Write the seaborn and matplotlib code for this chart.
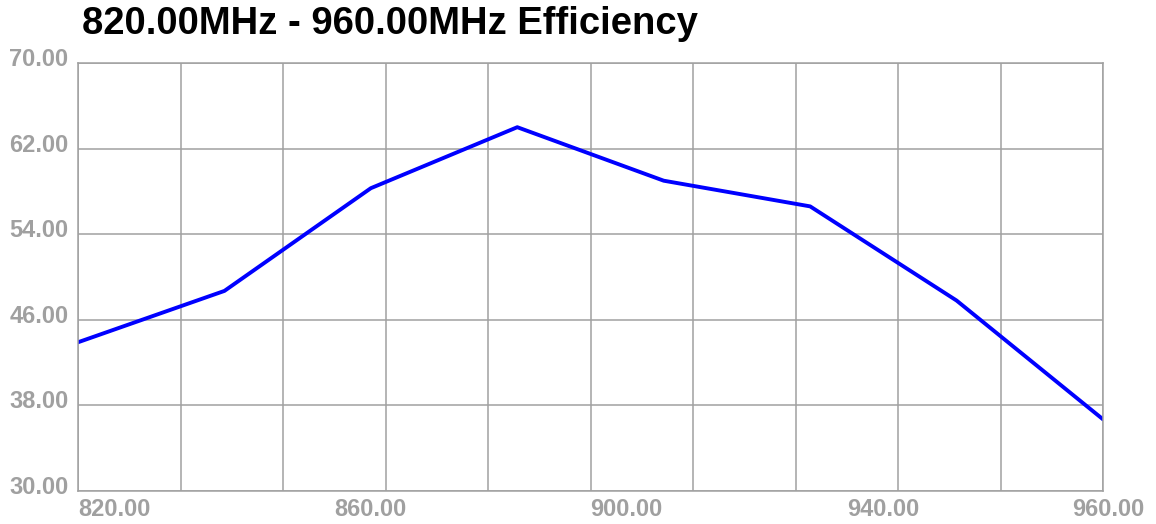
import numpy as np
import matplotlib
matplotlib.use('Agg')
import matplotlib.pyplot as plt
import matplotlib.transforms as mtrans
import seaborn as sns
import pandas as pd

# data
freq_mhz = [820, 840, 860, 880, 900, 920, 940, 960]
efficiency = [43.9, 48.7, 58.3, 64.0, 59.0, 56.6, 47.8, 36.7]

x_label_pos = [820, 855, 890, 925, 960]
x_label_text = ['820.00', '860.00', '900.00', '940.00', '960.00']
y_ticks = [30, 38, 46, 54, 62, 70]

df = pd.DataFrame({'freq': freq_mhz, 'eff': efficiency})

sns.set_style('white')
plt.rcParams['font.family'] = ['Liberation Sans', 'DejaVu Sans']

grey = '#a0a0a0'
fig = plt.figure(figsize=(11.56, 5.24), dpi=100)
ax = fig.add_axes([78 / 1156, 1 - 491 / 524, (1103 - 78) / 1156, (491 - 63) / 524])

sns.lineplot(data=df, x='freq', y='eff', ax=ax, color='#0000ff', linewidth=2.8)

ax.set_xlim(820, 960)
ax.set_ylim(30, 70)

# grid every 14 MHz, labels on minor ticks
ax.xaxis.remove_overlapping_locs = False
ax.set_xticks(np.arange(820, 961, 14))
ax.set_xticklabels([])
ax.set_xticks(x_label_pos, minor=True)
ax.set_xticklabels(x_label_text, minor=True)
ax.set_yticks(y_ticks)
ax.set_yticklabels([f'{v:.2f}' for v in y_ticks])
ax.grid(True, which='major', color=grey, linewidth=1.1)
ax.tick_params(axis='both', which='both', length=0)
ax.tick_params(axis='x', which='minor', pad=5)
ax.tick_params(axis='y', pad=7)

for lab in ax.get_xticklabels(minor=True):
    lab.set_ha('left')
    lab.set_fontweight('bold')
    lab.set_color(grey)
    lab.set_fontsize(17)
last = ax.get_xticklabels(minor=True)[-1]
last.set_ha('right')
last.set_transform(last.get_transform() + mtrans.ScaledTranslation(41 / 100, 0, fig.dpi_scale_trans))

for lab in ax.get_yticklabels():
    lab.set_fontweight('bold')
    lab.set_color(grey)
    lab.set_fontsize(17)
    lab.set_va('bottom')
    lab.set_transform(lab.get_transform() + mtrans.ScaledTranslation(0, -8 / 100, fig.dpi_scale_trans))

for s in ax.spines.values():
    s.set_color(grey)
    s.set_linewidth(1.1)

ax.set_xlabel('')
ax.set_ylabel('')
fig.text(82 / 1156, 1 - 24 / 524, '820.00MHz - 960.00MHz Efficiency',
         fontsize=27.5, fontweight='bold', color='black', va='center', ha='left')

fig.savefig('out.png', dpi=100)
